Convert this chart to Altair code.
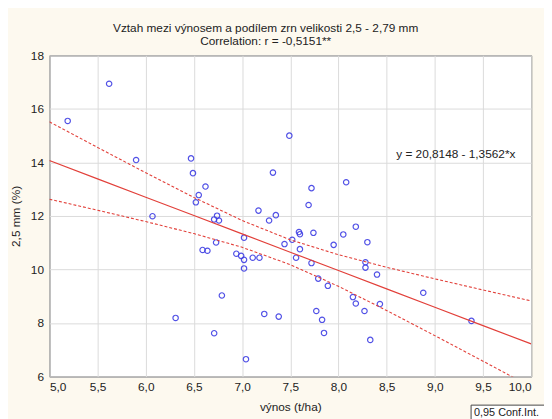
import altair as alt
import numpy as np
import pandas as pd

# ---- data ----
vynos = [5.19, 5.62, 5.90, 6.07, 6.47, 6.49, 6.62, 6.55, 6.52, 6.71, 6.74, 6.76,
         7.49, 7.32, 8.08, 7.72, 7.69, 7.17, 7.35, 7.28, 8.18, 7.59, 7.60, 7.74,
         8.05, 7.02, 7.52, 7.44, 7.95, 6.73, 6.59, 6.64, 7.60, 6.94, 6.99, 7.02,
         7.11, 7.18, 7.56, 7.72, 7.02, 7.79, 8.30, 8.28, 8.28, 8.40, 7.89, 8.88,
         8.15, 8.18, 8.43, 8.27, 7.77, 7.83, 9.38, 7.85, 8.33, 6.79, 6.31, 7.23,
         7.38, 6.71, 7.04]
podil = [15.55, 16.94, 14.09, 11.99, 14.15, 13.60, 13.10, 12.78, 12.51, 11.87, 12.01, 11.83,
         15.00, 13.62, 13.26, 13.04, 12.41, 12.20, 12.03, 11.83, 11.60, 11.40, 11.32, 11.37,
         11.31, 11.19, 11.11, 10.95, 10.92, 11.01, 10.73, 10.70, 10.76, 10.59, 10.51, 10.36,
         10.44, 10.44, 10.44, 10.24, 10.04, 9.66, 11.02, 10.27, 10.07, 9.81, 9.39, 9.13,
         8.97, 8.73, 8.71, 8.45, 8.45, 8.12, 8.08, 7.63, 7.37, 9.03, 8.19, 8.34,
         8.24, 7.62, 6.65]

x_ticks = [5.0, 5.5, 6.0, 6.5, 7.0, 7.5, 8.0, 8.5, 9.0, 9.5, 10.0]
y_ticks = [6, 8, 10, 12, 14, 16, 18]
title_lines = ["Vztah mezi výnosem a podílem zrn velikosti 2,5 -  2,79 mm",
               "Correlation: r = -0,5151**"]
x_title = "výnos (t/ha)"
y_title = "2,5 mm (%)"
eq_label = "y = 20,8148 - 1,3562*x"
legend_label = "0,95 Conf.Int."

# ---- regression fit and 95 % confidence band of the mean ----
xa = np.array(vynos)
ya = np.array(podil)
n = len(xa)
b1, b0 = np.polyfit(xa, ya, 1)
res = ya - (b0 + b1 * xa)
s = np.sqrt((res ** 2).sum() / (n - 2))
xm = xa.mean()
sxx = ((xa - xm) ** 2).sum()
t975 = 1.9996
xs = np.array(x_ticks)
fit = b0 + b1 * xs
half = t975 * s * np.sqrt(1.0 / n + (xs - xm) ** 2 / sxx)

pts = pd.DataFrame({"x": vynos, "y": podil})
band = pd.DataFrame({"x": xs, "fit": fit, "lo": fit - half, "hi": fit + half})

RED = "#e2403a"
BLUE = "#3f3fe4"
FONT = "Liberation Sans"

xscale = alt.Scale(domain=[5, 10], nice=False, zero=False)
yscale = alt.Scale(domain=[6, 18], nice=False, zero=False)

xaxis = alt.Axis(values=x_ticks, title=x_title,
                 labelExpr="replace(format(datum.value, '.1f'), '.', ',')",
                 labelPadding=5, titlePadding=9)
yaxis = alt.Axis(values=y_ticks, title=y_title, format="d",
                 labelPadding=6, titlePadding=8)

base_x = alt.X("x:Q", scale=xscale, axis=xaxis)

points = alt.Chart(pts).mark_point(
    shape="circle", filled=False, color=BLUE, size=30, strokeWidth=1.2, opacity=0.9
).encode(x=base_x, y=alt.Y("y:Q", scale=yscale, axis=yaxis))

fit_line = alt.Chart(band).mark_line(color=RED, strokeWidth=1.2, clip=True).encode(
    x=base_x, y=alt.Y("fit:Q", scale=yscale, axis=yaxis))
hi_line = alt.Chart(band).mark_line(color=RED, strokeWidth=1.1, strokeDash=[3, 2], clip=True).encode(
    x=base_x, y=alt.Y("hi:Q", scale=yscale, axis=yaxis))
lo_line = alt.Chart(band).mark_line(color=RED, strokeWidth=1.1, strokeDash=[3, 2], clip=True).encode(
    x=base_x, y=alt.Y("lo:Q", scale=yscale, axis=yaxis))

eq_text = alt.Chart(pd.DataFrame({"label": [eq_label]})).mark_text(
    align="left", baseline="middle", font=FONT, fontSize=12, color="#222"
).encode(x=alt.value(352), y=alt.value(100), text="label:N")

leg_box = alt.Chart(pd.DataFrame({"label": [legend_label]})).mark_rect(
    fill="white", stroke="#444", strokeWidth=1
).encode(x=alt.value(428), x2=alt.value(520), y=alt.value(355), y2=alt.value(380))
leg_text = alt.Chart(pd.DataFrame({"label": [legend_label]})).mark_text(
    align="left", baseline="alphabetic", font=FONT, fontSize=11, color="#222"
).encode(x=alt.value(431), y=alt.value(366), text="label:N")

chart = alt.layer(points, fit_line, hi_line, lo_line, eq_text, leg_box, leg_text).properties(
    width=489, height=326,
    title=alt.TitleParams(text=title_lines, font=FONT, fontSize=12, fontWeight="normal",
                          color="#222", anchor="middle", dx=-25, offset=2, lineHeight=13),
    autosize=alt.AutoSizeParams(type="none"),
    padding={"left": 42, "top": 45, "right": 13, "bottom": 40},
    background="#fdf9ef",
).configure_view(
    stroke="#333", strokeWidth=1, fill="white"
).configure_axis(
    grid=True, gridColor="#dadada", gridWidth=1, domain=False, ticks=False,
    labelFont=FONT, labelFontSize=12, labelColor="#222",
    titleFont=FONT, titleFontSize=12, titleFontWeight="normal", titleColor="#222"
)

chart.save("out.html", embed_options={"renderer": "svg", "actions": False})
